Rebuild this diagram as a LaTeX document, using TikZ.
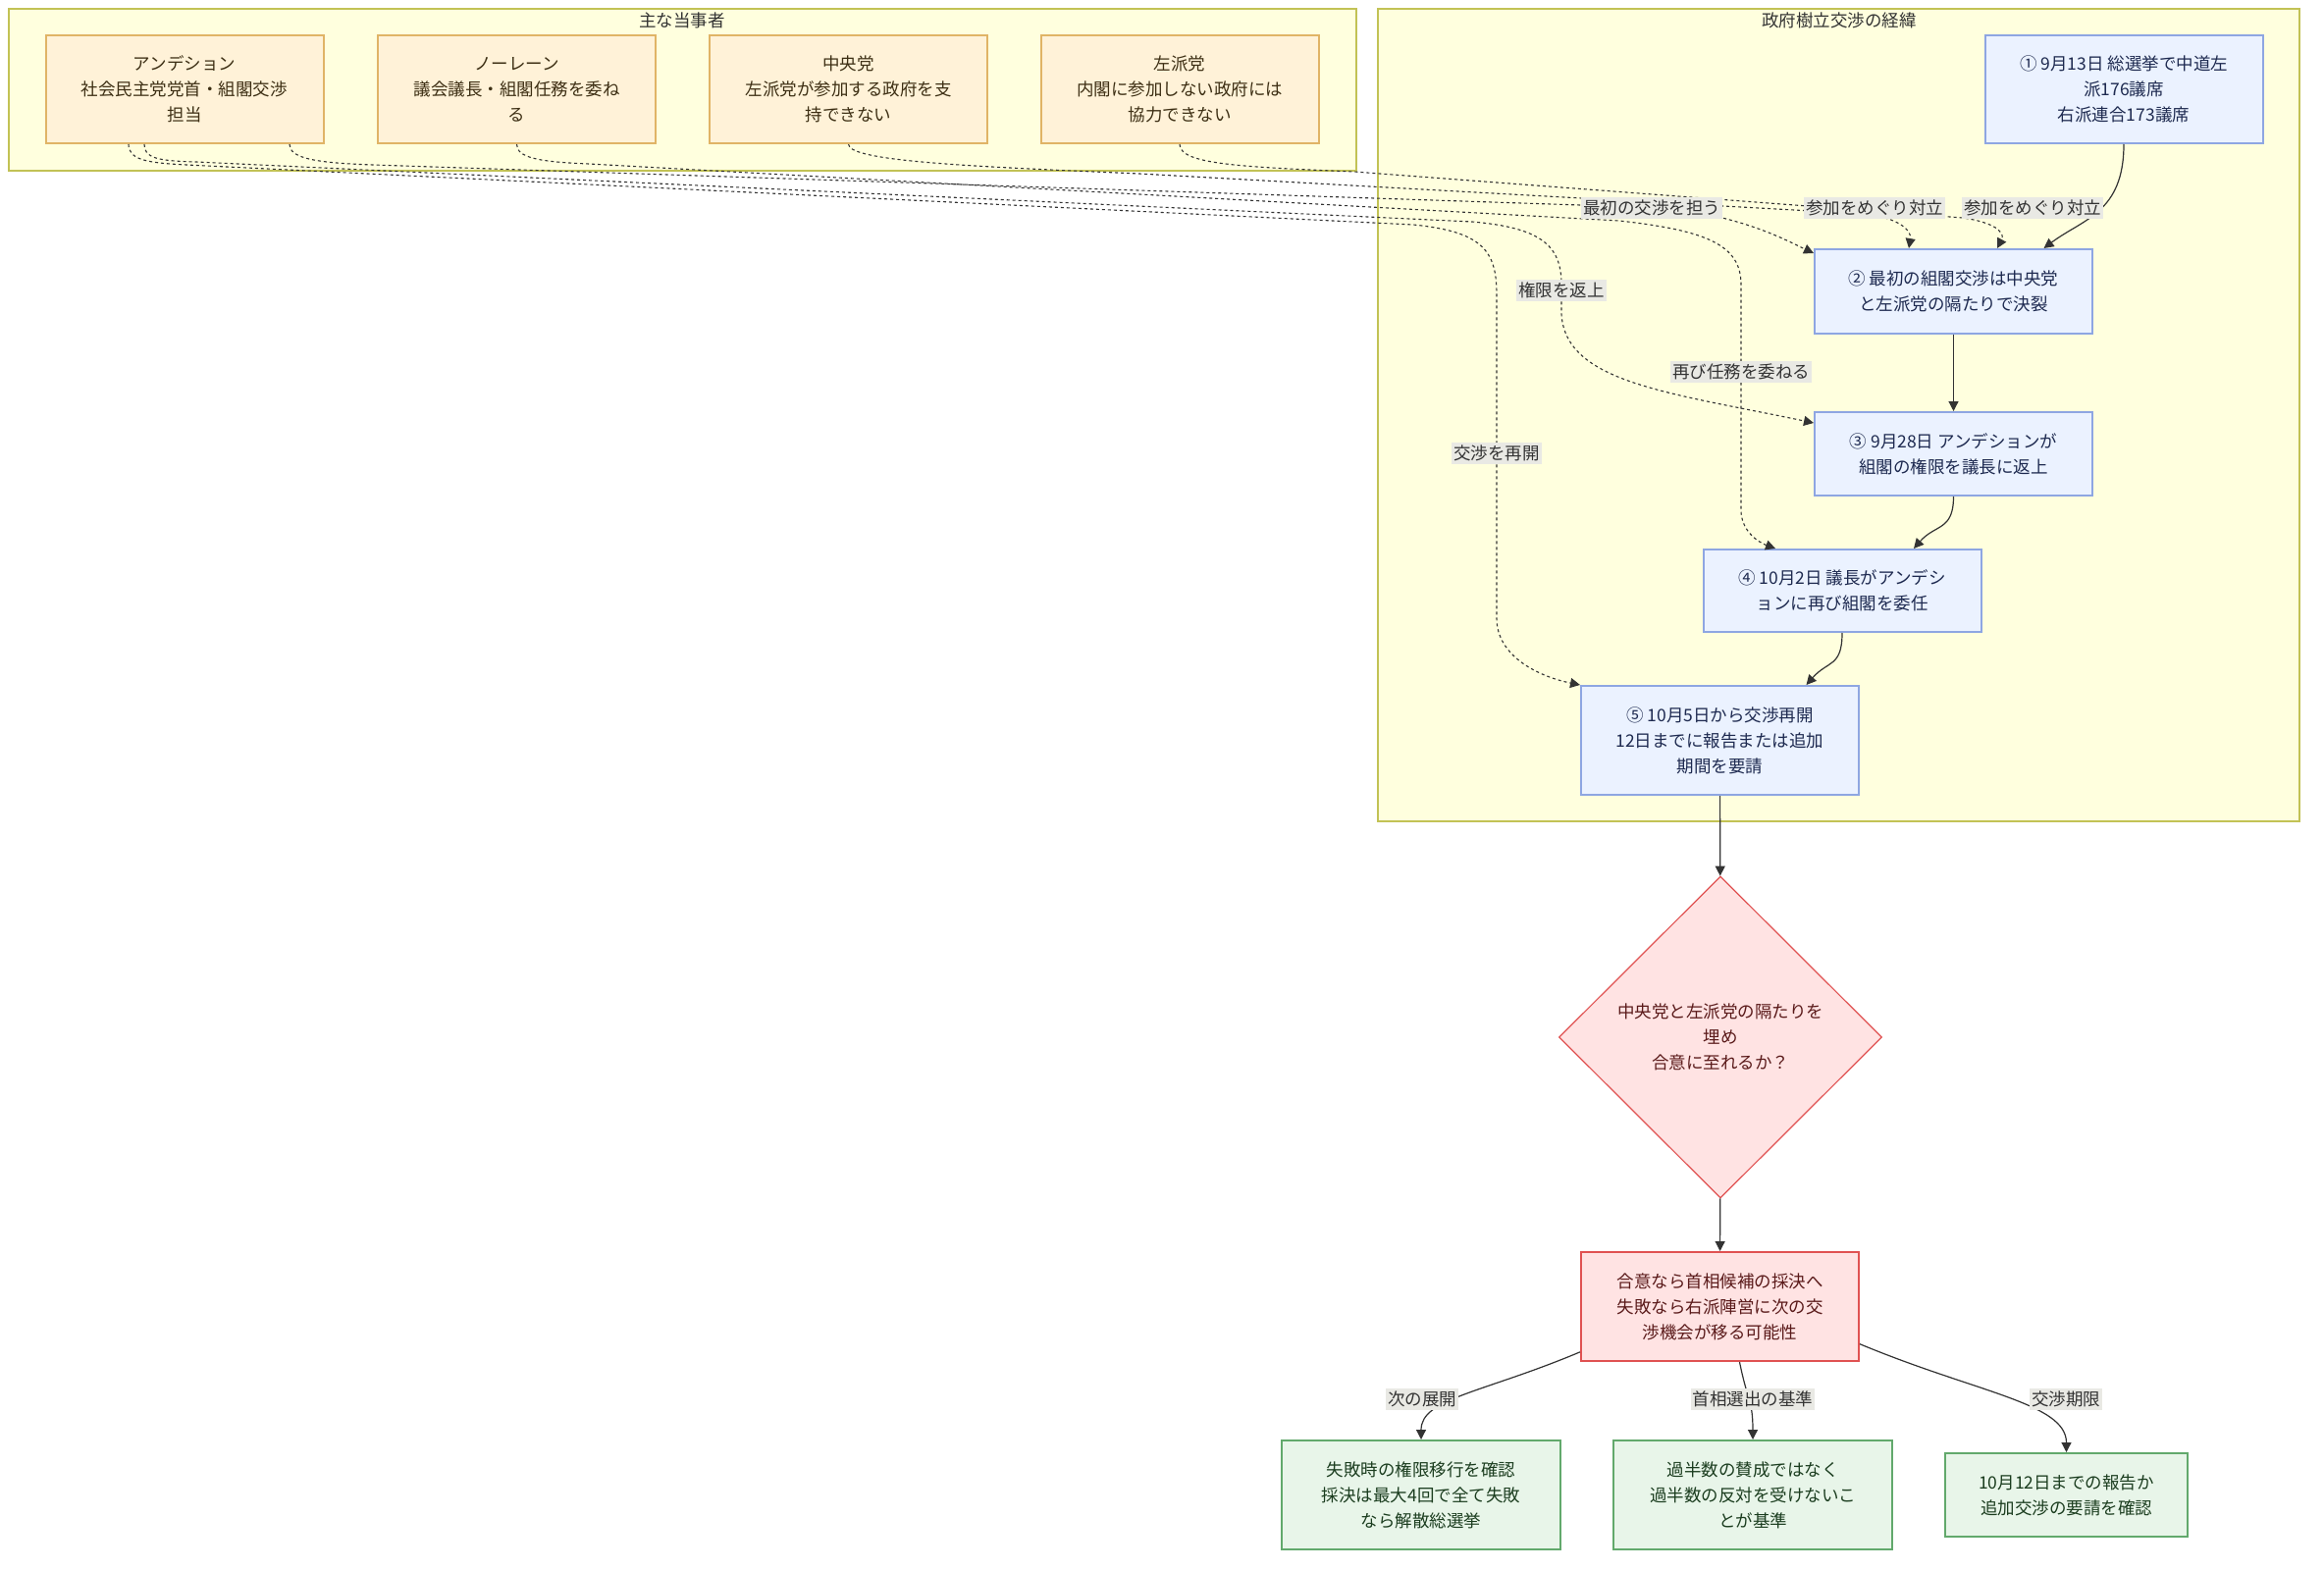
\documentclass[tikz,border=0pt]{standalone}
\usepackage{fontspec}
\setmainfont{Noto Sans CJK JP}
\usepackage{xcolor}
\usepackage{tikz}
\usetikzlibrary{shapes.geometric,arrows.meta,calc}

\definecolor{groupfill}{HTML}{FFFFDE}
\definecolor{groupline}{HTML}{C2C255}
\definecolor{actorfill}{HTML}{FFF2D8}
\definecolor{actorline}{HTML}{E0B466}
\definecolor{actortext}{HTML}{3D2F14}
\definecolor{stepfill}{HTML}{EBF2FF}
\definecolor{stepline}{HTML}{8EA6E2}
\definecolor{steptext}{HTML}{1E2A50}
\definecolor{riskfill}{HTML}{FFE3E3}
\definecolor{riskline}{HTML}{E05252}
\definecolor{risktext}{HTML}{5A1A1A}
\definecolor{notefill}{HTML}{E8F5E9}
\definecolor{noteline}{HTML}{62A96C}
\definecolor{notetext}{HTML}{1B3D1F}
\definecolor{labelfill}{HTML}{E9E9E4}
\definecolor{inkgrey}{HTML}{333333}

\begin{document}
\begin{tikzpicture}[x=0.5pt, y=-0.5pt, font=\fontsize{8.75pt}{13pt}\selectfont,
    group/.style={draw=groupline, fill=groupfill, line width=1pt},
    grouptitle/.style={text=inkgrey, inner sep=0},
    actor/.style={draw=actorline, fill=actorfill, text=actortext, line width=1pt,
        minimum width=141.5pt, minimum height=55pt, align=center, inner sep=0},
    stepbox/.style={draw=stepline, fill=stepfill, text=steptext, line width=1pt,
        minimum width=141.5pt, align=center, inner sep=0},
    riskbox/.style={draw=riskline, fill=riskfill, text=risktext, line width=1pt,
        minimum width=141.5pt, minimum height=55.5pt, align=center, inner sep=0},
    notebox/.style={draw=noteline, fill=notefill, text=notetext, line width=1pt,
        align=center, inner sep=0},
    elabel/.style={fill=labelfill, text=inkgrey, inner xsep=1pt, inner ysep=1.5pt},
    flow/.style={draw=inkgrey, line width=0.6pt, -{Triangle[length=5pt,width=5pt]}},
    link/.style={draw=inkgrey, line width=0.55pt, dash pattern=on 1.5pt off 1.5pt,
        -{Triangle[length=5pt,width=5pt]}}]

    \fill[white] (0,0) rectangle (2368,1600);
    \useasboundingbox (0,0) rectangle (2368,1600);

    % groups
    \draw[group] (9,9) rectangle (1382,174);
    \node[grouptitle] (playerstitle) at (695,21) {主な当事者};
    \draw[group] (1404,9) rectangle (2343,837);
    \node[grouptitle] (coursetitle) at (1874,21) {政府樹立交渉の経緯};

    % actors
    \node[actor] (anders) at (188,91) {アンデション\\社会民主党党首・組閣交渉\\担当};
    \node[actor] (speaker) at (526.5,91) {ノーレーン\\議会議長・組閣任務を委ね\\る};
    \node[actor] (centrep) at (864.5,91) {中央党\\左派党が参加する政府を支\\持できない};
    \node[actor] (leftp) at (1202,91) {左派党\\内閣に参加しない政府には\\協力できない};

    % steps
    \node[stepbox, minimum height=55pt] (s1) at (2164,91) {① 9月13日 総選挙で中道左\\派176議席\\右派連合173議席};
    \node[stepbox, minimum height=43pt] (s2) at (1990.5,297) {② 最初の組閣交渉は中央党\\と左派党の隔たりで決裂};
    \node[stepbox, minimum height=42.5pt] (s3) at (1990.5,462.5) {③ 9月28日 アンデションが\\組閣の権限を議長に返上};
    \node[stepbox, minimum height=42pt] (s4) at (1877,602) {④ 10月2日 議長がアンデシ\\ョンに再び組閣を委任};
    \node[stepbox, minimum height=55.5pt] (s5) at (1752.5,754.5) {⑤ 10月5日から交渉再開\\12日までに報告または追加\\期間を要請};

    \node[diamond, draw=riskline, fill=riskfill, text=risktext, line width=0.6pt,
        minimum width=164.5pt, minimum height=164pt, inner sep=0, align=center]
        (gap) at (1753,1057) {中央党と左派党の隔たりを\\埋め\\合意に至れるか？};
    \node[riskbox] (outcome) at (1752.5,1331.5) {合意なら首相候補の採決へ\\失敗なら右派陣営に次の交\\渉機会が移る可能性};

    \node[notebox, minimum width=142pt, minimum height=55.5pt] (n1) at (1448,1523.5) {失敗時の権限移行を確認\\採決は最大4回で全て失敗\\なら解散総選挙};
    \node[notebox, minimum width=142pt, minimum height=55.5pt] (n2) at (1786,1523.5) {過半数の賛成ではなく\\過半数の反対を受けないこ\\とが基準};
    \node[notebox, minimum width=123.5pt, minimum height=42.5pt] (n3) at (2105.5,1523.5) {10月12日までの報告か\\追加交渉の要請を確認};

    % main line
    \draw[flow] (s1.south) .. controls +(0,70) and +(40,-30) .. ($(s2.north)+(92,0)$);
    \draw[flow] (s2) -- (s3);
    \draw[flow] (s3.south) .. controls +(0,35) and +(22,-25) .. ($(s4.north)+(73,0)$);
    \draw[flow] (s4.south) .. controls +(0,35) and +(22,-25) .. ($(s5.north)+(88,0)$);
    \draw[flow] (s5) -- (gap);
    \draw[flow] (gap) -- (outcome);
    \draw[flow] (outcome.198) .. controls +(-100,42) and +(0,-42) .. (n1.north);
    \draw[flow] ($(outcome.south)+(20,0)$) .. controls +(8,40) and +(0,-40) .. (n2.north);
    \draw[flow] (outcome.345) .. controls +(120,50) and +(0,-50) .. (n3.north);

    % actor links
    \draw[link] ($(anders.south)+(107,0)$) .. controls +(0,14) and (320,166) .. (380,168)
        -- (1700,212) .. controls (1780,222) and (1820,245) .. ($(s2.north west)+(0,5)$);
    \draw[link] ($(anders.south)+(-41,0)$) .. controls +(0,14) and (160,164) .. (200,165)
        -- (1500,226) .. controls (1570,232) and (1591,250) .. (1591,290)
        -- (1591,320) .. controls (1595,390) and (1700,400) .. ($(s3.north west)+(0,12)$);
    \draw[link] ($(anders.south)+(-57,0)$) .. controls +(0,16) and (150,166) .. (190,168)
        -- (1440,229) .. controls (1510,236) and (1525,255) .. (1525,300)
        -- (1525,630) .. controls (1525,670) and (1570,690) .. (s5.north west);
    \draw[link] (speaker.south) .. controls +(0,14) and (550,165) .. (600,167)
        -- (1650,225) .. controls (1740,235) and (1774,250) .. (1774,290)
        -- (1774,520) .. controls (1774,540) and (1790,552) .. ($(s4.north)+(-68,0)$);
    \draw[link] (centrep.south) .. controls +(0,18) and (1000,170) .. (1161,177)
        -- (1900,218) .. controls (1935,222) and (1948,235) .. ($(s2.north)+(-45.5,0)$);
    \draw[link] (leftp.south) .. controls +(0,20) and (1260,170) .. (1380,175)
        -- (2000,222) .. controls (2040,228) and (2042,240) .. ($(s2.north)+(44.5,0)$);

    % labels
    \node[elabel] (lfirst) at (1683,212) {最初の交渉を担う};
    \node[elabel] (ljoina) at (1910,212) {参加をめぐり対立};
    \node[elabel] (ljoinb) at (2071,212) {参加をめぐり対立};
    \node[elabel] (lreturn) at (1591,296) {権限を返上};
    \node[elabel] (lagain) at (1774,379) {再び任務を委ねる};
    \node[elabel] (lresume) at (1525,462) {交渉を再開};
    \node[elabel] (lnext) at (1449,1426) {次の展開};
    \node[elabel] (lrule) at (1786,1426) {首相選出の基準};
    \node[elabel] (llimit) at (2105,1426) {交渉期限};
\end{tikzpicture}
\end{document}
